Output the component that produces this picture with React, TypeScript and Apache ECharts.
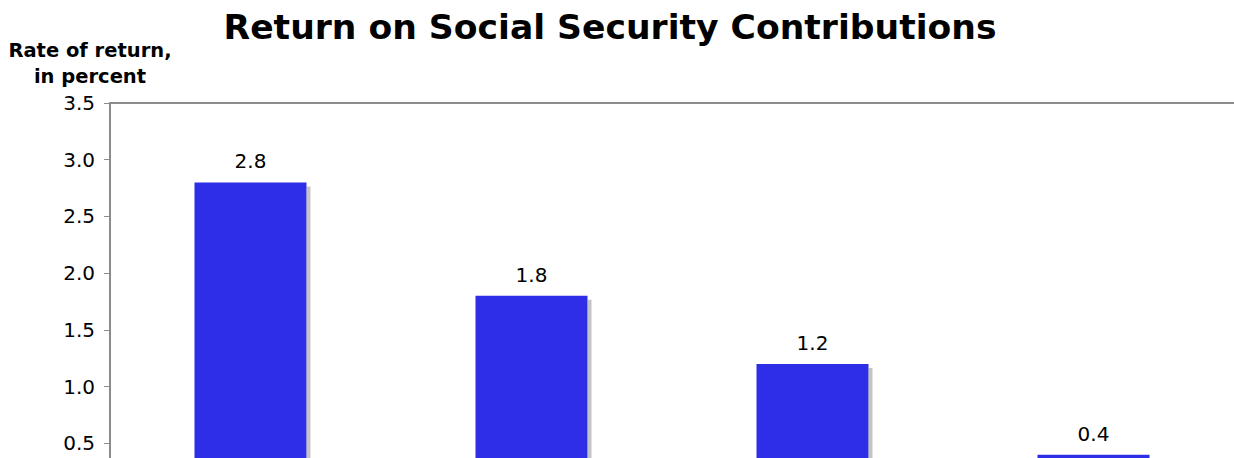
import React, { useEffect, useRef } from "react";
import * as echarts from "echarts";

const categories = ["A", "B", "C", "D"];
const returnValues = [2.8, 1.8, 1.2, 0.4];
const yTicks = [0, 0.5, 1.0, 1.5, 2.0, 2.5, 3.0, 3.5];

const FONT = "DejaVu Sans, Verdana, sans-serif";

export default function App() {
  const ref = useRef<HTMLDivElement>(null);
  useEffect(() => {
    document.body.style.margin = "0";
    const chart = echarts.init(ref.current!, undefined, { renderer: "svg" });
    chart.setOption({
      animation: false,
      backgroundColor: "#ffffff",
      title: {
        text: "Return on Social Security Contributions",
        left: 605,
        textAlign: "center",
        top: 4,
        textStyle: { fontFamily: FONT, fontWeight: "bold", fontSize: 34.6, color: "#000" },
      },
      graphic: [
        {
          type: "text",
          x: 90,
          y: 37,
          style: {
            text: "Rate of return,\nin percent",
            fontFamily: FONT,
            fontWeight: "bold",
            fontSize: 19.5,
            lineHeight: 26,
            fill: "#000",
            align: "center",
            verticalAlign: "top",
          },
        },
      ],
      grid: { left: 110, right: -4, top: 103, bottom: 20 },
      xAxis: [
        {
          type: "category",
          data: categories,
          position: "bottom",
          axisLine: { show: false },
          axisTick: { show: false },
          axisLabel: { show: false },
        },
        {
          type: "category",
          data: categories,
          position: "top",
          axisLine: { show: true, lineStyle: { color: "#8c8c8c", width: 2 } },
          axisTick: { show: false },
          axisLabel: { show: false },
        },
      ],
      yAxis: {
        type: "value",
        min: yTicks[0],
        max: yTicks[yTicks.length - 1],
        interval: 0.5,
        axisLine: { show: true, lineStyle: { color: "#8c8c8c", width: 2 } },
        axisTick: { show: true, length: 6, lineStyle: { color: "#8c8c8c", width: 1 } },
        splitLine: { show: false },
        axisLabel: {
          fontFamily: FONT,
          fontSize: 20,
          color: "#000",
          margin: 15,
          showMinLabel: false,
          formatter: (v: number) => v.toFixed(1),
        },
      },
      series: [
        {
          type: "bar",
          data: returnValues,
          barWidth: 112,
          itemStyle: {
            color: "#2f2de8",
            shadowColor: "#c4c4c4",
            shadowBlur: 0,
            shadowOffsetX: 4,
            shadowOffsetY: 4,
          },
          label: {
            show: true,
            position: "top",
            distance: 11,
            fontFamily: FONT,
            fontSize: 20,
            color: "#000",
            formatter: (p: any) => p.value.toFixed(1),
          },
        },
      ],
    });
    return () => chart.dispose();
  }, []);
  return <div ref={ref} style={{ width: 1234, height: 520 }} />;
}
